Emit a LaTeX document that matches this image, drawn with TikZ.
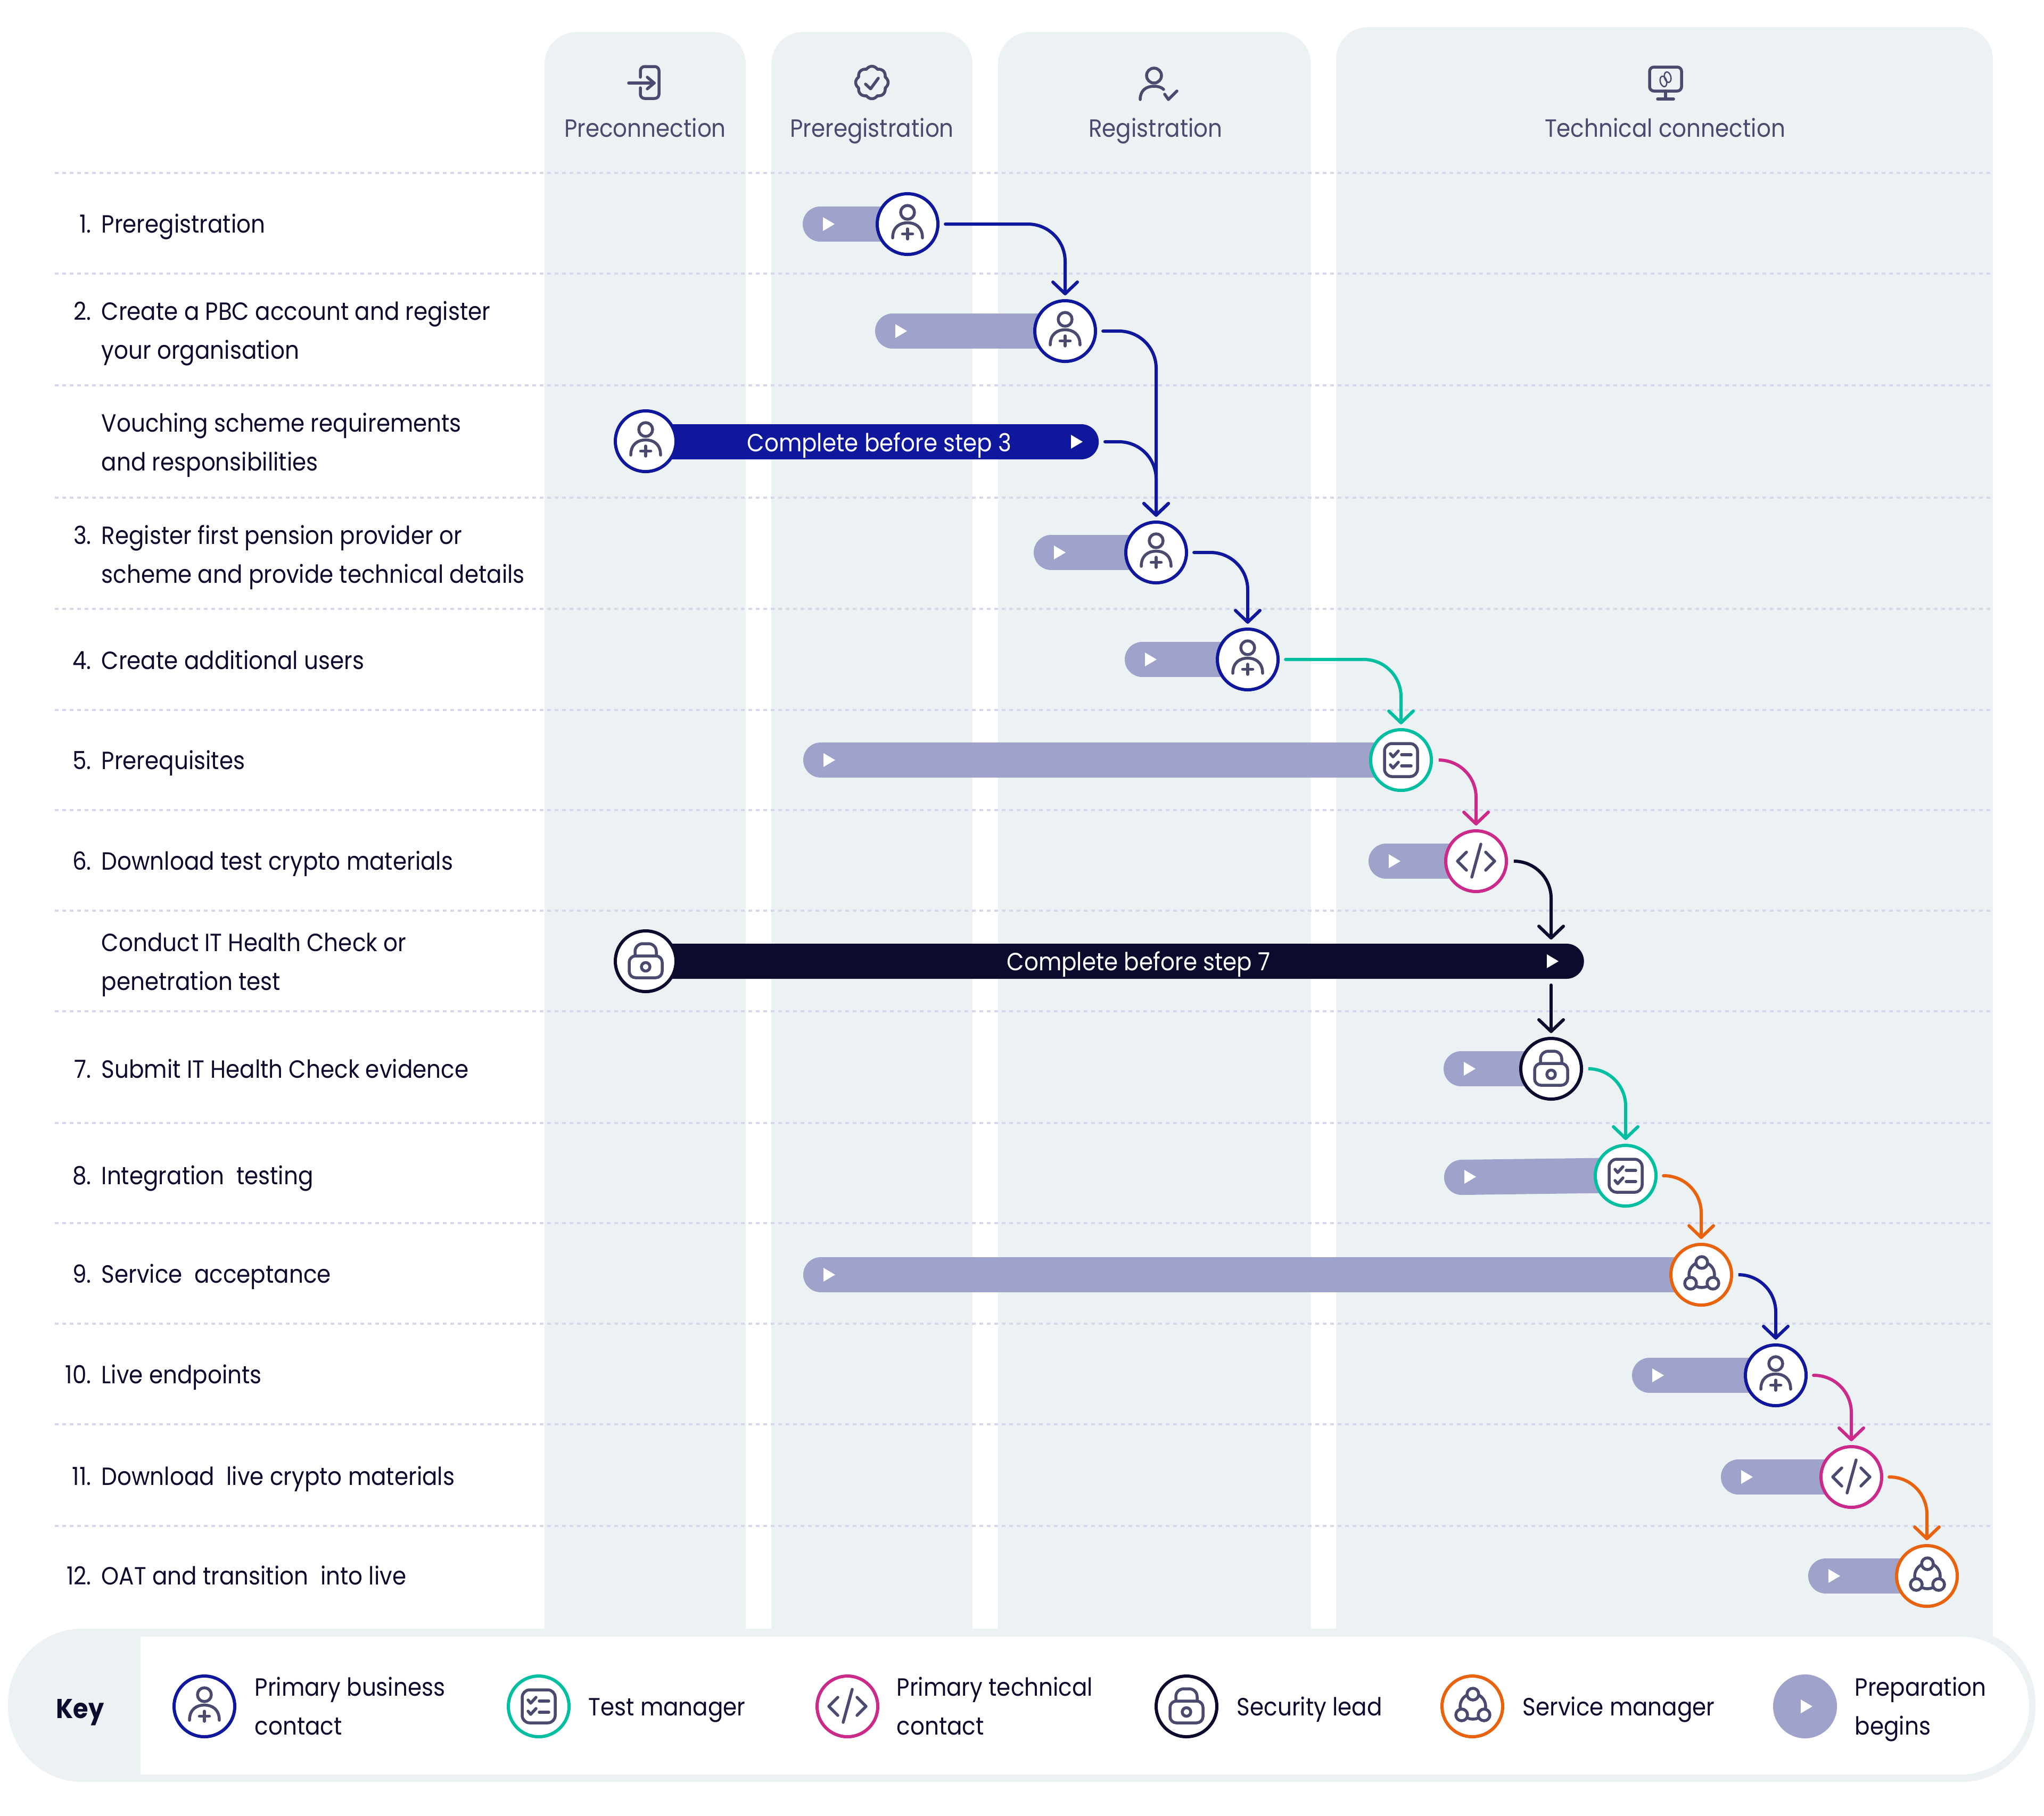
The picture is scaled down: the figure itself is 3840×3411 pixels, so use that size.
\documentclass[tikz,border=0pt]{standalone}
\usepackage{fontspec}
\setmainfont[FakeStretch=0.9]{Poppins}
\usetikzlibrary{arrows.meta}

\definecolor{navy}{HTML}{0F189C}
\definecolor{ink}{HTML}{0D0B2D}
\definecolor{slate}{HTML}{4A4A6E}
\definecolor{teal}{HTML}{00BFA0}
\definecolor{magenta}{HTML}{CB2A8A}
\definecolor{orange}{HTML}{E9620E}
\definecolor{prep}{HTML}{9FA2CA}
\definecolor{band}{HTML}{ECF1F4}
\definecolor{gridline}{HTML}{D5D7EB}

\tikzset{
	bandfill/.style={fill=band, rounded corners=0.6cm},
	gridrow/.style={gridline, line width=0.035cm, dash pattern=on 0.07cm off 0.07cm},
	rowtext/.style={anchor=base west, inner sep=0pt, text=ink, align=left, font=\fontsize{13.3pt}{20.6pt}\selectfont},
	headtext/.style={anchor=base, inner sep=0pt, text=slate, font=\fontsize{13.3pt}{20.6pt}\selectfont},
	bartext/.style={anchor=base, inner sep=0pt, text=white, font=\fontsize{13.3pt}{20.6pt}\selectfont},
	prepbar/.style={prep, line width=0.66cm, line cap=round},
	longbar/.style={rectangle, rounded corners=0.33cm, minimum height=0.66cm, inner sep=0pt, anchor=west},
	actor/.style={circle, draw=#1, fill=white, line width=0.06cm, minimum size=1.14cm, inner sep=0pt},
	link/.style={#1, line width=0.06cm, rounded corners=0.7cm, line cap=round, shorten <=0.11cm, shorten >=0.07cm, -{Straight Barb[length=0.22cm, width=0.46cm, round]}},
	icon/.style={slate, line width=0.055cm, line cap=round, line join=round},
	playtri/.pic={\fill[white] (-11,-13) -- (11,0) -- (-11,13) -- cycle;},
	personplus/.pic={
		\draw[icon] (0,-22) circle [radius=13];
		\draw[icon] (-28,26) .. controls (-28,5) and (-14,-2.5) .. (0,-2.5) .. controls (14,-2.5) and (28,5) .. (28,26);
		\draw[icon] (0,9) -- (0,28);
		\draw[icon] (-9.5,18.5) -- (9.5,18.5);
	},
	checklist/.pic={
		\draw[icon, rounded corners=0.14cm] (-31,-31) rectangle (31,31);
		\draw[icon] (-20,-12) -- (-15,-6) -- (-5,-17);
		\draw[icon] (-20,9) -- (-15,15) -- (-5,4);
		\draw[icon] (1,-10) -- (19,-10);
		\draw[icon] (1,11) -- (19,11);
	},
	codeslash/.pic={
		\draw[icon] (-18,-17) -- (-35,0) -- (-18,17);
		\draw[icon] (18,-17) -- (35,0) -- (18,17);
		\draw[icon] (9,-32) -- (-8,30);
	},
	padlock/.pic={
		\draw[icon, rounded corners=0.12cm] (-31,-10) rectangle (31,31);
		\draw[icon] (-20,-10) -- (-20,-18) .. controls (-20,-28) and (-12,-33) .. (-5,-33) -- (5,-33) .. controls (12,-33) and (20,-28) .. (20,-18) -- (20,-10);
		\draw[icon] (0,10.5) circle [radius=8];
	},
	trio/.pic={
		\draw[icon] (1,0) circle [radius=24];
		\draw[icon, fill=white] (1,-23) circle [radius=11];
		\draw[icon, fill=white] (-20,16) circle [radius=11];
		\draw[icon, fill=white] (22,16) circle [radius=11];
	},
	doorin/.pic={
		\draw[icon, rounded corners=0.08cm] (-9,-10) -- (-9,-30) -- (26,-30) -- (26,30) -- (-9,30) -- (-9,10);
		\draw[icon] (-31,1) -- (17,1);
		\draw[icon] (4,-10) -- (17,1) -- (4,12);
	},
	badge/.pic={
		\draw[icon] plot[smooth, samples=81, domain=0:360] ({(27+3.5*abs(cos(4*\x)))*cos(\x)}, {(27+3.5*abs(cos(4*\x)))*sin(\x)}) -- cycle;
		\draw[icon] (-12,3) -- (-2.5,12) -- (12,-8);
	},
	personcheck/.pic={
		\draw[icon] (-4,-13) circle [radius=14];
		\draw[icon] (-30,32) .. controls (-30,16) and (-20,7) .. (-4,7) .. controls (4,7) and (10,9) .. (14,13);
		\draw[icon] (16,22) -- (23,32) -- (39,16);
	},
	screenlink/.pic={
		\draw[icon, rounded corners=0.08cm] (-30,-29) rectangle (30,16);
		\draw[icon] (0,16) -- (0,31);
		\draw[icon] (-15,31) -- (15,31);
		\draw[slate, line width=0.025cm, rotate around={15:(-4,-2)}] (-4,-2) ellipse [x radius=6, y radius=10];
		\draw[slate, line width=0.025cm, rotate around={15:(4,-10)}] (4,-10) ellipse [x radius=6, y radius=10];
	}
}

\begin{document}
\begin{tikzpicture}[x=0.01cm,y=-0.01cm]
	\useasboundingbox (0,0) rectangle (3840,3411);

	\fill[bandfill] (1023,3200) -- (1023,60) -- (1401,60) -- (1401,3200) -- cycle;
	\fill[bandfill] (1449,3200) -- (1449,60) -- (1827,60) -- (1827,3200) -- cycle;
	\fill[bandfill] (1875,3200) -- (1875,60) -- (2463,60) -- (2463,3200) -- cycle;
	\fill[bandfill] (2510,3200) -- (2510,51) -- (3744,51) -- (3744,3200) -- cycle;
	\fill[band, rounded corners=1.4cm] (15,3060) rectangle (3824,3348);
	\fill[white] (264,3075) [rounded corners=1.29cm] -- (3812,3075) -- (3812,3334) [sharp corners] -- (264,3334) -- cycle;

	\pic at (1212,155) {doorin};
	\pic at (1638,155) {badge};
	\pic at (2172,155) {personcheck};
	\pic at (3129,155) {screenlink};
	\node[headtext] (h1) at (1212,257) {Preconnection};
	\node[headtext] (h2) at (1638,257) {Preregistration};
	\node[headtext] (h3) at (2171,257) {Registration};
	\node[headtext] (h4) at (3128,257) {Technical connection};

	\draw[gridrow] (103,325) -- (3744,325);
	\draw[gridrow] (103,514) -- (3744,514);
	\draw[gridrow] (103,724) -- (3744,724);
	\draw[gridrow] (103,935) -- (3744,935);
	\draw[gridrow] (103,1144) -- (3744,1144);
	\draw[gridrow] (103,1334) -- (3744,1334);
	\draw[gridrow] (103,1522) -- (3744,1522);
	\draw[gridrow] (103,1711) -- (3744,1711);
	\draw[gridrow] (103,1900) -- (3744,1900);
	\draw[gridrow] (103,2110) -- (3744,2110);
	\draw[gridrow] (103,2298) -- (3744,2298);
	\draw[gridrow] (103,2487) -- (3744,2487);
	\draw[gridrow] (103,2676) -- (3744,2676);
	\draw[gridrow] (103,2867) -- (3744,2867);

	\node[rowtext] (t1) at (190,437) {\llap{1.\hspace{0.19cm}}Preregistration};
	\node[rowtext] (t2) at (190,674) {\llap{2.\hspace{0.19cm}}Create a PBC account and register\\your organisation};
	\node[rowtext] (tv) at (190,884) {Vouching scheme requirements\\and responsibilities};
	\node[rowtext] (t3) at (190,1095) {\llap{3.\hspace{0.19cm}}Register first pension provider or\\scheme and provide technical details};
	\node[rowtext] (t4) at (190,1257) {\llap{4.\hspace{0.19cm}}Create additional users};
	\node[rowtext] (t5) at (190,1445) {\llap{5.\hspace{0.19cm}}Prerequisites};
	\node[rowtext] (t6) at (190,1634) {\llap{6.\hspace{0.19cm}}Download test crypto materials};
	\node[rowtext] (ti) at (190,1860) {Conduct IT Health Check or\\penetration test};
	\node[rowtext] (t7) at (190,2025) {\llap{7.\hspace{0.19cm}}Submit IT Health Check evidence};
	\node[rowtext] (t8) at (190,2225) {\llap{8.\hspace{0.19cm}}Integration\ \ testing};
	\node[rowtext] (t9) at (190,2410) {\llap{9.\hspace{0.19cm}}Service\ \ acceptance};
	\node[rowtext] (t10) at (190,2599) {\llap{10.\hspace{0.19cm}}Live endpoints};
	\node[rowtext] (t11) at (190,2790) {\llap{11.\hspace{0.19cm}}Download\ \ live crypto materials};
	\node[rowtext] (t12) at (190,2977) {\llap{12.\hspace{0.19cm}}OAT and transition\ \ into live};

	\draw[prepbar] (1541,421) -- (1705,421);
	\draw[prepbar] (1677,622) -- (2001,622);
	\draw[prepbar] (1975,1038) -- (2172,1038);
	\draw[prepbar] (2146,1239) -- (2344,1239);
	\draw[prepbar] (1542,1428) -- (2632,1428);
	\draw[prepbar] (2604,1618) -- (2773,1618);
	\draw[prepbar] (2745,2008) -- (2914,2008);
	\draw[prepbar] (2746,2212) -- (3054,2208);
	\draw[prepbar] (1542,2395) -- (3196,2395);
	\draw[prepbar] (3099,2584) -- (3336,2584);
	\draw[prepbar] (3266,2775) -- (3478,2775);
	\draw[prepbar] (3430,2961) -- (3620,2961);
	\pic at (1557,421) {playtri};
	\pic at (1693,622) {playtri};
	\pic at (1991,1038) {playtri};
	\pic at (2162,1239) {playtri};
	\pic at (1558,1428) {playtri};
	\pic at (2620,1618) {playtri};
	\pic at (2761,2008) {playtri};
	\pic at (2762,2211) {playtri};
	\pic at (1558,2395) {playtri};
	\pic at (3115,2584) {playtri};
	\pic at (3282,2775) {playtri};
	\pic at (3446,2961) {playtri};

	\node[longbar, fill=navy, minimum width=8.5cm] (vbar) at (1213,830) {};
	\node[longbar, fill=ink, minimum width=17.61cm] (ibar) at (1213,1806) {};
	\node[bartext] (vtxt) at (1652,848) {Complete before step 3};
	\node[bartext] (itxt) at (2139,1823) {Complete before step 7};
	\pic at (2023,830) {playtri};
	\pic at (2917,1806) {playtri};

	\node[actor=navy] (p1) at (1705,421) {};
	\node[actor=navy] (p2) at (2001,622) {};
	\node[actor=navy] (pv) at (1213,829) {};
	\node[actor=navy] (p3) at (2172,1038) {};
	\node[actor=navy] (p4) at (2344,1239) {};
	\node[actor=teal] (p5) at (2632,1428) {};
	\node[actor=magenta] (p6) at (2773,1618) {};
	\node[actor=ink] (pi) at (1213,1806) {};
	\node[actor=ink] (p7) at (2914,2008) {};
	\node[actor=teal] (p8) at (3054,2209) {};
	\node[actor=orange] (p9) at (3196,2395) {};
	\node[actor=navy] (p10) at (3336,2584) {};
	\node[actor=magenta] (p11) at (3478,2775) {};
	\node[actor=orange] (p12) at (3620,2961) {};
	\pic at (p1) {personplus};
	\pic at (p2) {personplus};
	\pic at (pv) {personplus};
	\pic at (p3) {personplus};
	\pic at (p4) {personplus};
	\pic at (p5) {checklist};
	\pic at (p6) {codeslash};
	\pic at (pi) {padlock};
	\pic at (p7) {padlock};
	\pic at (p8) {checklist};
	\pic at (p9) {trio};
	\pic at (p10) {personplus};
	\pic at (p11) {codeslash};
	\pic at (p12) {trio};

	\draw[link=navy] (p1.east) -| (p2.north);
	\draw[link=navy] (p2.east) -| (p3.north);
	\draw[link=navy] (vbar.east) -| (p3.north);
	\draw[link=navy] (p3.east) -| (p4.north);
	\draw[link=teal] (p4.east) -| (p5.north);
	\draw[link=magenta] (p5.east) -| (p6.north);
	\draw[link=ink] (p6.east) -| (p7 |- ibar.north);
	\draw[link=ink] (p7 |- ibar.south) -- (p7.north);
	\draw[link=teal] (p7.east) -| (p8.north);
	\draw[link=orange] (p8.east) -| (p9.north);
	\draw[link=navy] (p9.east) -| (p10.north);
	\draw[link=magenta] (p10.east) -| (p11.north);
	\draw[link=orange] (p11.east) -| (p12.north);

	\node[rowtext, font=\fontsize{14.6pt}{20.6pt}\selectfont\bfseries] (kkey) at (105,3228) {Key};
	\node[actor=navy] (k1) at (384,3206) {};
	\node[actor=teal] (k2) at (1012,3206) {};
	\node[actor=magenta] (k3) at (1592,3206) {};
	\node[actor=ink] (k4) at (2229,3206) {};
	\node[actor=orange] (k5) at (2766,3206) {};
	\node[circle, fill=prep, minimum size=1.2cm, inner sep=0pt] (k6) at (3391,3206) {};
	\pic at (k1) {personplus};
	\pic at (k2) {checklist};
	\pic at (k3) {codeslash};
	\pic at (k4) {padlock};
	\pic at (k5) {trio};
	\pic at (3394,3206) {playtri};
	\node[rowtext] (l1) at (478,3259) {Primary business\\contact};
	\node[rowtext] (l2) at (1105,3223) {Test manager};
	\node[rowtext] (l3) at (1684,3259) {Primary technical\\contact};
	\node[rowtext] (l4) at (2323,3223) {Security lead};
	\node[rowtext] (l5) at (2860,3223) {Service manager};
	\node[rowtext] (l6) at (3484,3259) {Preparation\\begins};
\end{tikzpicture}
\end{document}
